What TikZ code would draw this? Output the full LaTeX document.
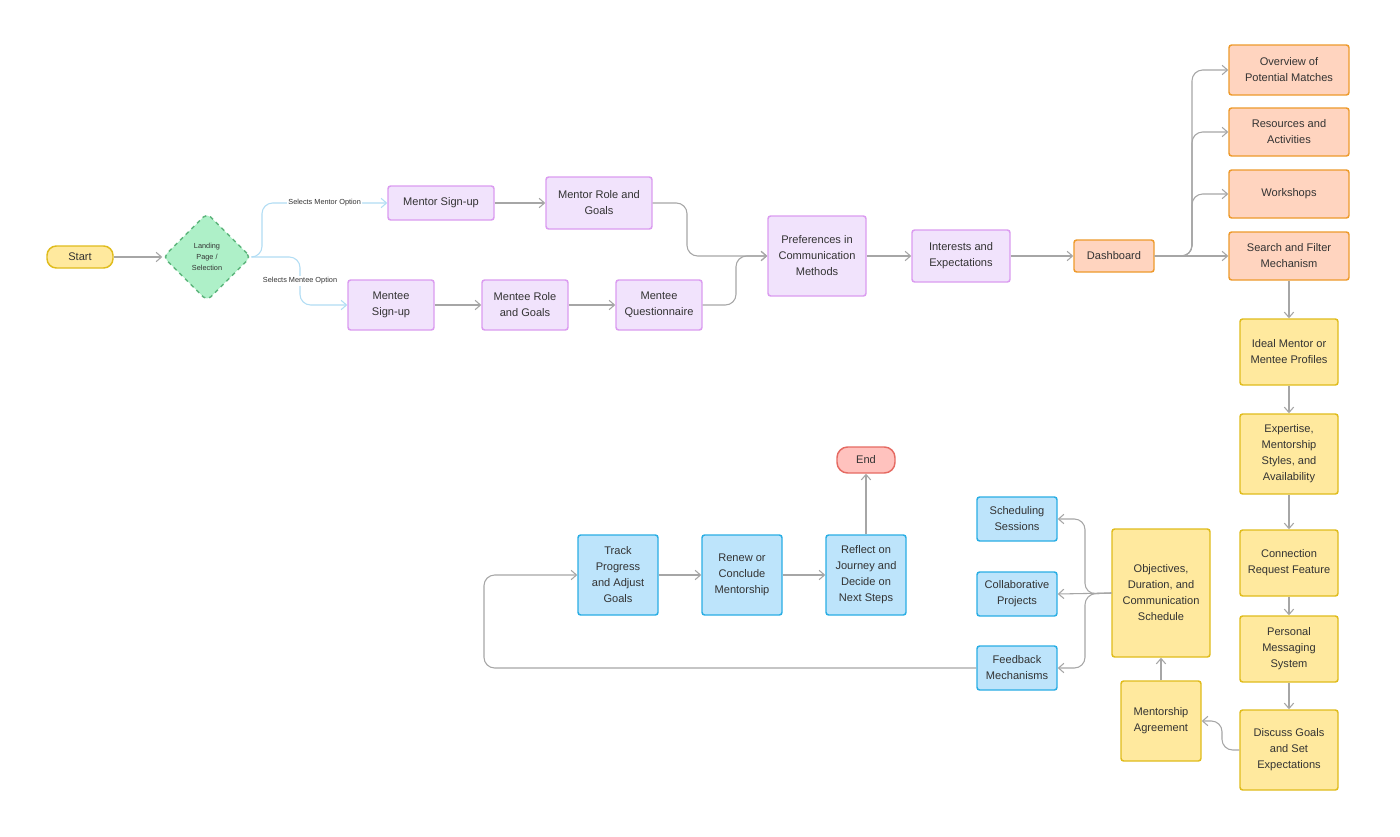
\documentclass[tikz,border=0pt]{standalone}
\usepackage{fontspec}
\setmainfont{Liberation Sans}
\usetikzlibrary{shapes.geometric,arrows.meta}
\definecolor{pF}{HTML}{F1E3FC}\definecolor{pD}{HTML}{DB9CF0}
\definecolor{oF}{HTML}{FFD4BF}\definecolor{oD}{HTML}{EE9A2C}
\definecolor{yF}{HTML}{FFE99E}\definecolor{yD}{HTML}{E0BC1C}
\definecolor{bF}{HTML}{BDE4FB}\definecolor{bD}{HTML}{2AAEE4}
\definecolor{gF}{HTML}{AEF0C8}\definecolor{gD}{HTML}{5DB57C}
\definecolor{rF}{HTML}{FFC2BE}\definecolor{rD}{HTML}{E56A62}
\definecolor{ln}{HTML}{A6A6A6}\definecolor{lb}{HTML}{B2DDF4}
\definecolor{tx}{HTML}{333333}
\tikzset{
 x=0.75pt,y=-0.75pt,
 bx/.style={draw,line width=1.1pt,rounded corners=2pt,align=center,font=\fontsize{8.3}{12}\selectfont,text=tx,inner sep=1pt},
 P/.style={bx,fill=pF,draw=pD},O/.style={bx,fill=oF,draw=oD},
 Y/.style={bx,fill=yF,draw=yD},B/.style={bx,fill=bF,draw=bD},
 sz/.style 2 args={minimum width=#1*0.75pt,minimum height=#2*0.75pt},
 ar/.style={draw=ln,line width=0.8pt,-{Straight Barb[length=4pt,width=7pt]},rounded corners=8pt},
 la/.style={draw=lb,line width=0.8pt,-{Straight Barb[length=4pt,width=7pt]},rounded corners=8pt},
 lbl/.style={font=\fontsize{5.5}{7}\selectfont,text=tx,fill=white,inner sep=1pt}
}
\begin{document}
\begin{tikzpicture}
\useasboundingbox[fill=white] (0,0) rectangle (1400,836);
\node[Y,sz={66}{22},rounded corners=7pt] (start) at (80,257) {Start};
\node[diamond,draw=gD,fill=gF,dashed,line width=1.1pt,rounded corners=4pt,minimum width=88*0.75pt,minimum height=88*0.75pt,inner sep=0pt,align=center,font=\fontsize{5.5}{8}\selectfont,text=tx] (land) at (207,257) {Landing\\Page /\\Selection};
\node[P,sz={106}{34}] (msu) at (441,203) {Mentor Sign-up};
\node[P,sz={106}{52}] (mrg) at (599,203) {Mentor Role and\\Goals};
\node[P,sz={86}{50}] (esu) at (391,305) {Mentee\\Sign-up};
\node[P,sz={86}{50}] (erg) at (525,305) {Mentee Role\\and Goals};
\node[P,sz={86}{50}] (eq) at (659,305) {Mentee\\Questionnaire};
\node[P,sz={98}{80}] (pref) at (817,256) {Preferences in\\Communication\\Methods};
\node[P,sz={98}{52}] (int) at (961,256) {Interests and\\Expectations};
\node[O,sz={80}{32}] (dash) at (1114,256) {Dashboard};
\node[O,sz={120}{50}] (ov) at (1289,70) {Overview of\\Potential Matches};
\node[O,sz={120}{48}] (res) at (1289,132) {Resources and\\Activities};
\node[O,sz={120}{48}] (wk) at (1289,194) {Workshops};
\node[O,sz={120}{48}] (sf) at (1289,256) {Search and Filter\\Mechanism};
\node[Y,sz={98}{66}] (ideal) at (1289,352) {Ideal Mentor or\\Mentee Profiles};
\node[Y,sz={98}{80}] (exp) at (1289,454) {Expertise,\\Mentorship\\Styles, and\\Availability};
\node[Y,sz={98}{66}] (con) at (1289,563) {Connection\\Request Feature};
\node[Y,sz={98}{66}] (pm) at (1289,649) {Personal\\Messaging\\System};
\node[Y,sz={98}{80}] (dg) at (1289,750) {Discuss Goals\\and Set\\Expectations};
\node[Y,sz={80}{80}] (ma) at (1161,721) {Mentorship\\Agreement};
\node[Y,sz={98}{128}] (obj) at (1161,593) {Objectives,\\Duration, and\\Communication\\Schedule};
\node[B,sz={80}{44}] (sch) at (1017,519) {Scheduling\\Sessions};
\node[B,sz={80}{44}] (col) at (1017,594) {Collaborative\\Projects};
\node[B,sz={80}{44}] (fb) at (1017,668) {Feedback\\Mechanisms};
\node[B,sz={80}{80}] (tr) at (618,575) {Track\\Progress\\and Adjust\\Goals};
\node[B,sz={80}{80}] (rn) at (742,575) {Renew or\\Conclude\\Mentorship};
\node[B,sz={80}{80}] (rf) at (866,575) {Reflect on\\Journey and\\Decide on\\Next Steps};
\node[bx,fill=rF,draw=rD,sz={58}{26},rounded corners=8pt] (end) at (866,460) {End};
% edges
\draw[ar] (start) -- (land);
\draw[la] (land.east) -| (262,203) -- node[lbl]{Selects Mentor Option} (msu.west);
\draw[la] (land.east) -- (300,257) |- (esu.west);
\node[lbl] at (300,281) {Selects Mentee Option};
\draw[ar] (msu) -- (mrg);
\draw[ar] (esu) -- (erg);
\draw[ar] (erg) -- (eq);
\draw[ar] (mrg.east) -- (687,203) |- (pref.west);
\draw[ar] (eq.east) -- (736,305) |- (pref.west);
\draw[ar] (pref) -- (int);
\draw[ar] (int) -- (dash);
\draw[ar] (dash.east) -- (1192,256) |- (ov.west);
\draw[ar] (dash.east) -- (1192,256) |- (res.west);
\draw[ar] (dash.east) -- (1192,256) |- (wk.west);
\draw[ar] (dash) -- (sf);
\draw[ar] (sf) -- (ideal);
\draw[ar] (ideal) -- (exp);
\draw[ar] (exp) -- (con);
\draw[ar] (con) -- (pm);
\draw[ar] (pm) -- (dg);
\draw[ar] (dg.west) -- (1222,750) |- (ma.east);
\draw[ar] (ma) -- (obj);
\draw[ar] (obj.west) -- (1085,594) |- (sch.east);
\draw[ar] (obj.west) -- (col.east);
\draw[ar] (obj.west) -- (1085,594) |- (fb.east);
\draw[ar] (fb.west) -- (484,668) |- (tr.west);
\draw[ar] (tr) -- (rn);
\draw[ar] (rn) -- (rf);
\draw[ar] (rf) -- (end);
\end{tikzpicture}
\end{document}
